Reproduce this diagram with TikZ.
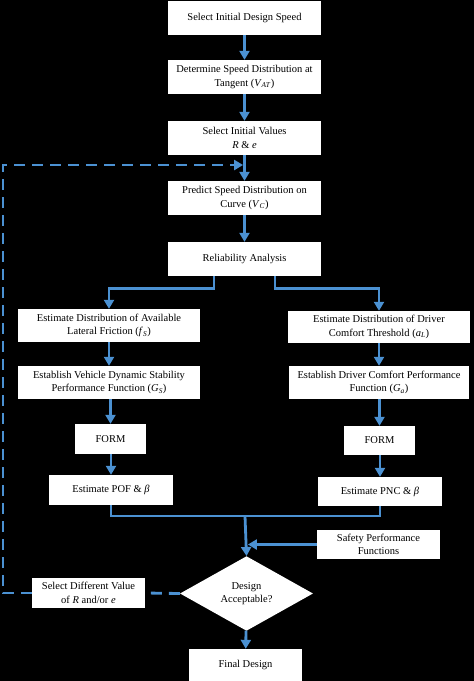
\documentclass[tikz,border=0pt]{standalone}
\usepackage{fontspec}
\setmainfont{Liberation Serif}
\usetikzlibrary{arrows.meta,shapes.geometric,calc}
\definecolor{flowblue}{RGB}{75,145,210}
\newcommand{\varsub}[2]{\textit{#1}\textsubscript{\textit{#2}}}
\begin{document}
\begin{tikzpicture}[x=1pt,y=1pt,
  box/.style={fill=white,draw=none,inner sep=1pt,align=center,text=black,
    font=\fontsize{10.5}{13.5}\selectfont},
  arr/.style={draw=flowblue,line width=2.8pt,-{Triangle[width=10pt,length=9pt]}},
  ln/.style={draw=flowblue,line width=2.8pt},
  dashln/.style={draw=flowblue,line width=2.8pt,dash pattern=on 11pt off 7pt},
  dasharr/.style={dashln,-{Triangle[width=10pt,length=9pt]}}]
\fill[black] (0,0) rectangle (474,-681);
\useasboundingbox (0,0) rectangle (474,-681);
\clip (0,0) rectangle (474,-681);
% main column
\node[box,minimum width=153pt,minimum height=34pt] (b1) at (244.5,-18) {Select Initial Design Speed};
\node[box,minimum width=153pt,minimum height=34pt] (b2) at (244.5,-77) {Determine Speed Distribution at\\Tangent (\varsub{V}{AT})};
\node[box,minimum width=153pt,minimum height=34pt] (b3) at (244.5,-138) {Select Initial Values\\\textit{R} \& \textit{e}};
\node[box,minimum width=153pt,minimum height=34pt] (b4) at (244.5,-198) {Predict Speed Distribution on\\Curve (\varsub{V}{C})};
\node[box,minimum width=153pt,minimum height=34pt] (b5) at (244.5,-259) {Reliability Analysis};
% left branch
\node[box,minimum width=182pt,minimum height=33pt] (L1) at (109,-325.5) {Estimate Distribution of Available\\Lateral Friction (\varsub{f}{S})};
\node[box,minimum width=182pt,minimum height=33pt] (L2) at (109,-382.5) {Establish Vehicle Dynamic Stability\\Performance Function (\varsub{G}{S})};
\node[box,minimum width=71pt,minimum height=30pt] (L3) at (110.5,-439) {FORM};
\node[box,minimum width=124pt,minimum height=30pt] (L4) at (111,-490) {Estimate POF \& \textit{β}};
% right branch
\node[box,minimum width=182pt,minimum height=32pt] (R1) at (379,-327) {Estimate Distribution of Driver\\Comfort Threshold (\varsub{a}{L})};
\node[box,minimum width=180pt,minimum height=33pt] (R2) at (379,-382.5) {Establish Driver Comfort Performance\\Function (\varsub{G}{a})};
\node[box,minimum width=71pt,minimum height=29pt] (R3) at (379.5,-440.5) {FORM};
\node[box,minimum width=124pt,minimum height=29pt] (R4) at (380,-491.5) {Estimate PNC \& \textit{β}};
% lower part
\node[box,minimum width=123pt,minimum height=29pt] (sp) at (378.5,-544.5) {Safety Performance\\Functions};
\node[box,shape=diamond,inner sep=0pt,minimum width=133pt,minimum height=61pt] (dia) at (246.5,-593.5) {Design\\Acceptable?};
\node[box,minimum width=113pt,minimum height=30pt] (sel) at (88.5,-593) {Select Different Value\\of \textit{R} and/or \textit{e}};
\node[box,minimum width=113pt,minimum height=32pt] (fin) at (245.5,-665) {Final Design};
\coordinate (m) at (245,-516);
\coordinate (c2) at (3,-165);
% connectors
\draw[arr] (b1) -- (b2);
\draw[arr] (b2) -- (b3);
\draw[arr] (b3) -- (b4);
\draw[arr] (b4) -- (b5);
\draw[arr] ([xshift=-30.5pt]b5.south) -- ++(0,-12) -| (L1.north);
\draw[arr] ([xshift=30.5pt]b5.south) -- ++(0,-12) -| (R1.north);
\draw[arr] (L1) -- (L1 |- L2.north);
\draw[arr] (L2.south -| L3) -- (L3);
\draw[arr] (L3.south -| L4) -- (L4);
\draw[arr] (R1) -- (R1 |- R2.north);
\draw[arr] (R2.south -| R3) -- (R3);
\draw[arr] (R3.south -| R4) -- (R4);
\draw[ln] (L4.south) |- (m);
\draw[ln] (R4.south) |- (m);
\draw[arr] (m) -- (dia.north);
\draw[arr] (sp.west) -- ([xshift=1.4pt]sp.west -| dia.north);
\draw[arr] (dia) -- (fin);
\draw[dashln] (dia.west) -- (sel.east);
\draw[dasharr] (sel.west) -| (c2) -- ([xshift=-1.4pt]c2 -| b4.north);
\end{tikzpicture}
\end{document}
